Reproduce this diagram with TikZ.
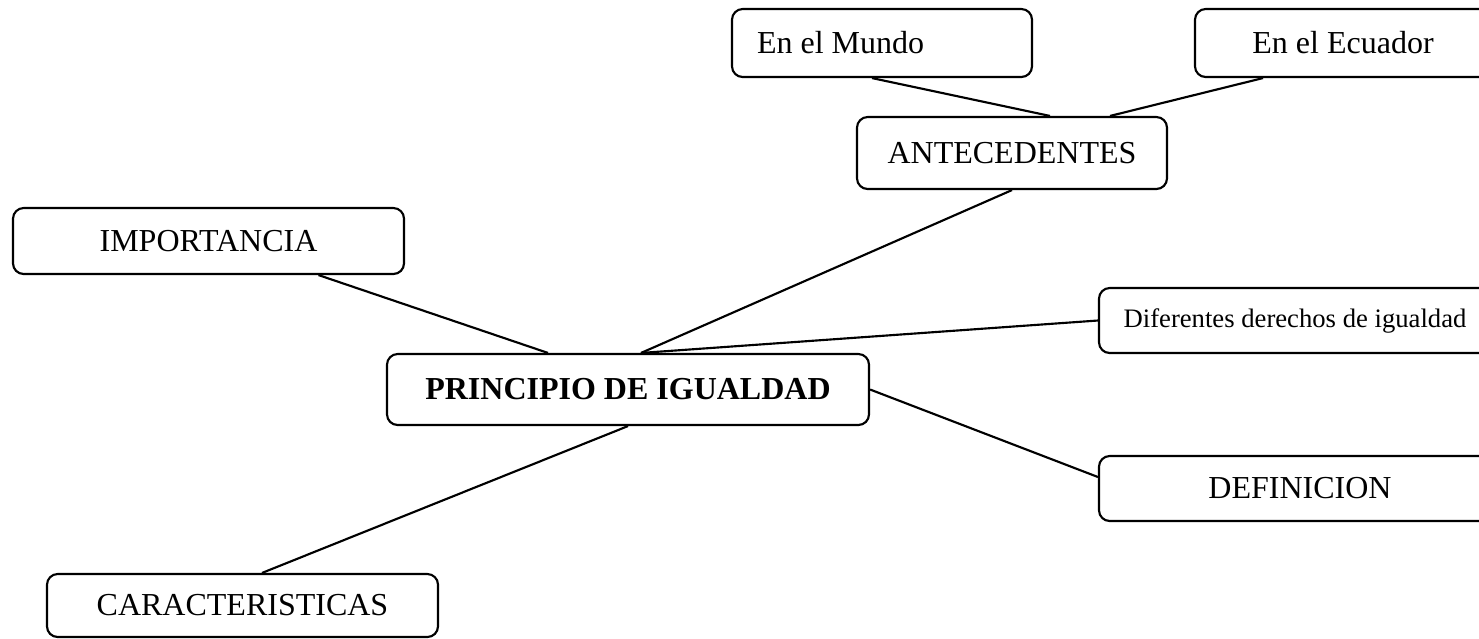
\documentclass[tikz,border=0pt]{standalone}
\usepackage{fontspec}
\setmainfont{Liberation Serif}
\usetikzlibrary{calc}

\begin{document}
\begin{tikzpicture}[x=0.375pt,y=-0.375pt,line width=0.8pt,
    every node/.style={draw,rounded corners=4pt,inner sep=0pt,font=\fontsize{12}{14}\selectfont},
    boxsize/.style 2 args={minimum width=#1*0.375pt,minimum height=#2*0.375pt}]

                        \clip (0,0) rectangle (1479,638);
                        \node[boxsize={300}{68},text width=93.75pt,inner xsep=9.375pt,align=flush left] (mundo) at (882,43) {En el Mundo};
                        \node[boxsize={296}{68}] (ecuador) at (1343,43) {En el Ecuador};
                        \node[boxsize={310}{72}] (antec) at (1012,153) {ANTECEDENTES};
                        \node[boxsize={391}{66}] (import) at (208.5,241) {IMPORTANCIA};
                        \node[boxsize={392}{65},font=\fontsize{10}{12}\selectfont] (difer) at (1295,320.5) {Diferentes derechos de igualdad};
                        \node[boxsize={482}{71},font=\bfseries\fontsize{12}{14}\selectfont] (principio) at (628,389.5) {PRINCIPIO DE IGUALDAD};
                        \node[boxsize={402}{65}] (defin) at (1300,488.5) {DEFINICION};
                        \node[boxsize={391}{63}] (caract) at (242.5,605.5) {CARACTERISTICAS};

                        \draw ($(mundo.south)+(-10,0)$) -- ($(antec.north)+(38,0)$);
                        \draw ($(ecuador.south)+(-80,0)$) -- ($(antec.north)+(98,0)$);
                        \draw (antec.south) -- ($(principio.north)+(13,0)$);
                        \draw ($(import.south)+(110,0)$) -- ($(principio.north)+(-80,0)$);
                        \draw (difer.west) -- ($(principio.north)+(13,0)$);
                        \draw (principio.east) -- ($(defin.west)+(0,-11.5)$);
                        \draw (principio.south) -- ($(caract.north)+(19.5,0)$);
                    \end{tikzpicture}
\end{document}
